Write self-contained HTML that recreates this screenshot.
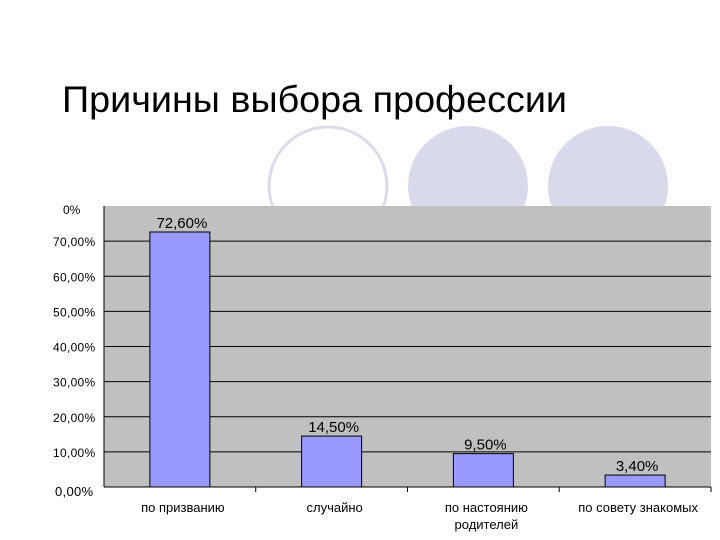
<!DOCTYPE html>
<html><head><meta charset="utf-8"><style>
body{margin:0;background:#fff;}
svg{display:block;font-family:"Liberation Sans","DejaVu Sans",sans-serif;}
</style></head><body>
<svg id="c" width="720" height="540" viewBox="0 0 720 540">
<circle cx="328" cy="186" r="59" fill="#fff" stroke="#dcdce8" stroke-width="3"/>
<circle cx="468" cy="186" r="60" fill="#d9d9ec"/>
<circle cx="608" cy="186" r="60" fill="#d9d9ec"/>
<text x="62" y="112" font-size="37" textLength="505" lengthAdjust="spacingAndGlyphs" fill="#000">Причины выбора профессии</text>
<g id="plot"></g>
</svg>
<script>
const categories=[["по призванию"],["случайно"],["по настоянию","родителей"],["по совету знакомых"]];
const values=[72.6,14.5,9.5,3.4];
const valueLabels=["72,60%","14,50%","9,50%","3,40%"];
const yTicks=[0,10,20,30,40,50,60,70];
const yTickLabels=["0,00%","10,00%","20,00%","30,00%","40,00%","50,00%","60,00%","70,00%"];
const yMax=80;
const L=104,R=711,T=206,B=487;
const NS="http://www.w3.org/2000/svg";
const g=document.getElementById('plot');
function y(v){return B-(v/yMax)*(B-T);}
const bw=(R-L)/categories.length;
function mk(t,a){const e=document.createElementNS(NS,t);for(const k in a)e.setAttribute(k,a[k]);g.appendChild(e);return e;}
let bg=mk('rect',{x:L,y:T,width:R-L,height:B-T,fill:'#c0c0c0'});


yTicks.forEach((v,i)=>{
  if(v>0){let l=mk('line',{x1:L,x2:R,y1:y(v),y2:y(v),stroke:'#000','stroke-width':1});
  
  }
  let t=mk('text',{x:i==0?55:53,y:y(v)+(i==0?9:5),'font-size':i==0?13:12,'letter-spacing':'0.3'});
  t.textContent=yTickLabels[i];
  
  
});
let tl=mk('text',{x:63,y:214,'font-size':12});tl.textContent="0%";


values.forEach((v,i)=>{
  const cx=L+bw*(i+0.5);
  let r=mk('rect',{x:cx-30,y:y(v),width:60,height:B-y(v),fill:'#9999ff',stroke:'#000','stroke-width':1});
  
  
  let t=mk('text',{x:cx+2,y:y(v)-4,'font-size':15,'text-anchor':'middle'});
  t.textContent=valueLabels[i];
  
  
  categories[i].forEach((s,j)=>{
    let c=mk('text',{x:cx+3,y:B+25+j*17,'font-size':13,'text-anchor':'middle'});
    c.textContent=s;
    
    
  });
  let tk=mk('line',{x1:L+bw*(i+1),x2:L+bw*(i+1),y1:B,y2:B+5,stroke:'#000'});
  
  
});
let ax=mk('line',{x1:L,x2:L,y1:T,y2:B,stroke:'#000'});


let xx=mk('line',{x1:L,x2:R,y1:B,y2:B,stroke:'#000'});


</script>
</body></html>
